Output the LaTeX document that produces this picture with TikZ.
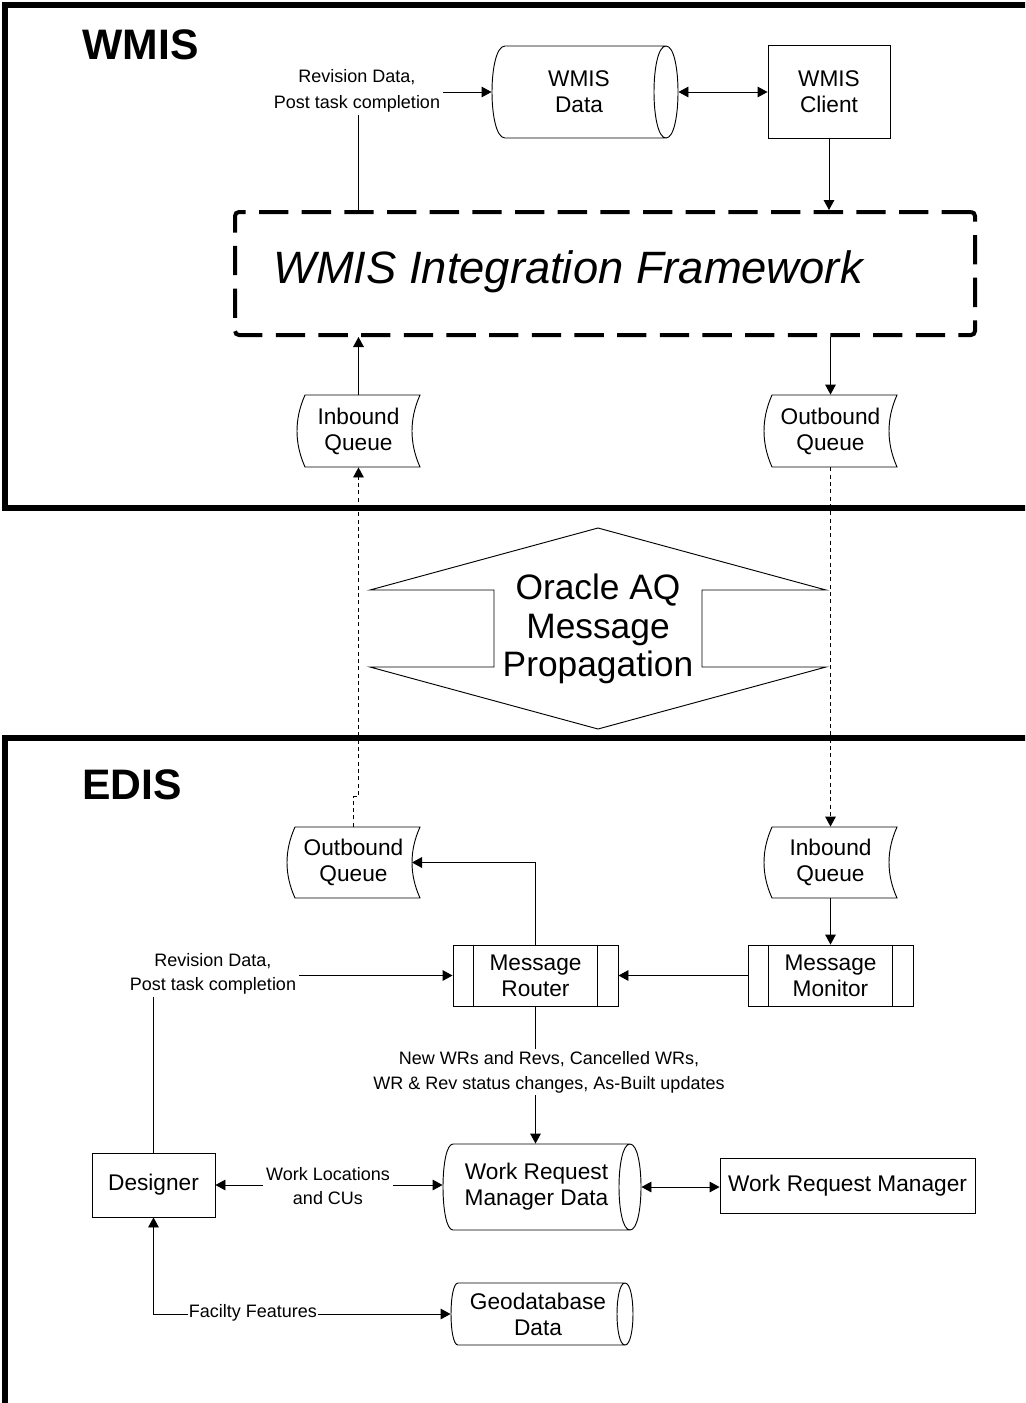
\documentclass[tikz,border=0pt]{standalone}
\usepackage{fontspec}
\setmainfont{Liberation Sans}
\usetikzlibrary{arrows.meta,calc}
\newcommand\FsMed{\fontsize{17pt}{19.5pt}\selectfont}
\newcommand\FsSmall{\fontsize{13.5pt}{18.5pt}\selectfont}
\newcommand\FsTitle{\fontsize{32pt}{36pt}\selectfont\bfseries}
\newcommand\FsFrame{\fontsize{34pt}{38pt}\selectfont\itshape}
\newcommand\FsOrc{\fontsize{26.5pt}{29pt}\selectfont}
% cylinder: name, L (left extreme), Rc (lens centre x), T, B, d (left bulge), e (lens x radius), text
\newcommand\Cyl[8]{%
  \draw[ln] ({#2+#6},#4) -- (#3,#4)
     .. controls ({#3+4/3*#7},#4) and ({#3+4/3*#7},#5) .. (#3,#5)
     .. controls ({#3-4/3*#7},#5) and ({#3-4/3*#7},#4) .. (#3,#4)
     ({#2+#6},#4) .. controls ({#2-#6/3},#4) and ({#2-#6/3},#5) .. ({#2+#6},#5) -- (#3,#5);
  \node[txt, minimum width={(#3-#2)*0.75pt}, minimum height={(#5-#4)*0.75pt}] (#1) at ({(#2+#3)/2},{(#4+#5)/2}) {#8};}
% queue: name, L, R, T, B, d, text
\newcommand\Que[7]{%
  \draw[ln] ({#2+#6},#4) -- (#3,#4)
     .. controls ({#3-4/3*#6},{#4+(#5-#4)/3}) and ({#3-4/3*#6},{#5-(#5-#4)/3}) .. (#3,#5)
     -- ({#2+#6},#5)
     .. controls ({#2-#6/3},{#5-(#5-#4)/3}) and ({#2-#6/3},{#4+(#5-#4)/3}) .. cycle;
  \node[txt, minimum width={(#3-#2)*0.75pt}, minimum height={(#5-#4)*0.75pt}] (#1) at ({(#2+#3)/2},{(#4+#5)/2}) {#7};}
\begin{document}
\begin{tikzpicture}[x=0.75pt,y=-0.75pt, line width=0.7pt,
  >={Triangle[length=7.5pt,width=8pt]},
  ln/.style={line width=0.7pt, draw=black},
  darr/.style={->, dash pattern=on 3pt off 2.5pt},
  box/.style={draw, line width=0.7pt, align=center, font=\FsMed, inner sep=0pt},
  txt/.style={align=center, font=\FsMed, inner sep=0pt},
  lbl/.style={fill=white, align=center, font=\FsSmall, inner sep=2pt},
  outer/.style={line width=4.5pt}]
\useasboundingbox (0,0) rectangle (1025,1403);
\clip (0,0) rectangle (1025,1403);

% outer frames
\draw[outer] (5,5) rectangle (1060,508);
\draw[outer] (5,738) rectangle (1060,1440);
\node[font=\FsTitle, anchor=west, inner sep=0pt] (t1) at (82,45) {WMIS};
\node[font=\FsTitle, anchor=west, inner sep=0pt] (t2) at (82,785) {EDIS};

% WMIS part
\Cyl{wdata}{492}{666}{46}{138}{13}{12}{WMIS\\Data}
\node[box, minimum width={122*0.75pt}, minimum height={93*0.75pt}] (client) at (829,91.5) {WMIS\\Client};
\node[draw, line width=3pt, dash pattern=on 22pt off 10pt, rounded corners=3pt,
      minimum width={740*0.75pt}, minimum height={123*0.75pt}] (fw) at (605,273.5) {};
\node[font=\FsFrame, inner sep=0pt] (fwt) at (568,272) {WMIS Integration Framework};
\Que{inq1}{297}{420}{395}{467}{8}{Inbound\\Queue}
\Que{outq1}{764}{897}{395}{467}{8}{Outbound\\Queue}

\draw[->] (inq1.north |- fw.north) |- (wdata.west);
\node[lbl, font=\fontsize{13.5pt}{19.5pt}\selectfont] (lrev1) at (357,91) {Revision Data,\\Post task completion};
\draw[<->] ($(wdata.east)+(12,0)$) -- (client.west |- wdata.east);
\draw[->] (client.south) -- (client.south |- fw.north);
\draw[->] (inq1.north) -- (inq1.north |- fw.south);
\draw[->] (outq1.north |- fw.south) -- (outq1.north);

% Oracle AQ
\draw[ln] (598,528) -- (826,590) -- (702,590) -- (702,667) -- (826,667) -- (598,729)
   -- (370,667) -- (494,667) -- (494,590) -- (370,590) -- cycle;
\node[font=\FsOrc, align=center, inner sep=0pt] (orc) at (598,629) {Oracle AQ\\Message\\Propagation};

% EDIS part
\Que{outq2}{287}{420}{827}{898}{8}{Outbound\\Queue}
\Que{inq2}{764}{897}{827}{898}{8}{Inbound\\Queue}
\coordinate (outq2in) at (412,862.5);
\node[box, minimum width={165*0.75pt}, minimum height={61*0.75pt}] (router) at (535.5,975.5) {Message\\Router};
\draw ([xshift=15.75pt]router.north west) -- ([xshift=15.75pt]router.south west)
      ([xshift=-15.75pt]router.north east) -- ([xshift=-15.75pt]router.south east);
\node[box, minimum width={165*0.75pt}, minimum height={61*0.75pt}] (monitor) at (830.5,975.5) {Message\\Monitor};
\draw ([xshift=15.75pt]monitor.north west) -- ([xshift=15.75pt]monitor.south west)
      ([xshift=-15.75pt]monitor.north east) -- ([xshift=-15.75pt]monitor.south east);
\node[box, minimum width={123*0.75pt}, minimum height={64*0.75pt}] (designer) at (153.5,1185) {Designer};
\Cyl{wrmd}{443}{630}{1144}{1230}{10}{11}{Work Request\\Manager Data}
\node[box, minimum width={255*0.75pt}, minimum height={55*0.75pt}] (wrm) at (847.5,1185.5) {Work Request Manager};
\Cyl{geo}{451}{625}{1283}{1345}{7}{8}{Geodatabase\\Data}

% dashed propagation links
\draw[darr] (outq2.north) -- ++(0,-30) -| (inq1.south);
\draw[darr] (outq1.south) -- (inq2.north);

% EDIS connectors
\draw[->] (inq2.south) -- (monitor.north);
\draw[->] (monitor.west) -- (router.east);
\draw[->] (router.north) |- (outq2in);
\draw[->] (designer.north) |- (router.west);
\node[lbl] (lrev2) at (213,974) {Revision Data,\\Post task completion};
\draw[->] (router.south) -- (router.south |- wrmd.north);
\node[lbl] (lnew) at (549,1072) {New WRs and Revs, Cancelled WRs,\\WR \& Rev status changes, As-Built updates};
\draw[<->] (designer.east) -- (designer.east -| wrmd.west);
\node[lbl] (lwork) at (328,1186) {Work Locations\\and CUs};
\draw[<->] ($(wrmd.east)+(11,0)$) -- (wrm.west |- wrmd.east);
\draw[<->] (designer.south) |- (geo.west);
\node[lbl, inner sep=1pt] (lfac) at (253,1313) {Facilty Features};
\end{tikzpicture}
\end{document}
